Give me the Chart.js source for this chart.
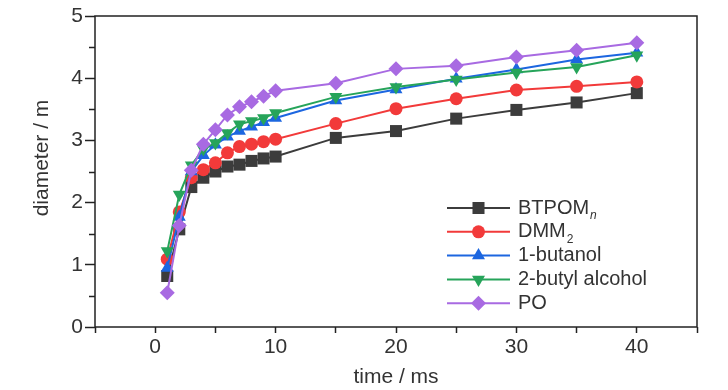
<!DOCTYPE html>
<html>
<head>
<meta charset="utf-8">
<script src="https://cdn.jsdelivr.net/npm/chart.js@4/dist/chart.umd.min.js"></script>
<style>
  html, body { margin: 0; padding: 0; background: #fff; }
  #wrap { width: 728px; height: 390px; }
</style>
</head>
<body>
<div id="wrap"><canvas id="chart" width="728" height="390"></canvas></div>
<script>
// --- data ---
const timeMs = [1, 2, 3, 4, 5, 6, 7, 8, 9, 10, 15, 20, 25, 30, 35, 40];
const btpom = [0.82, 1.57, 2.25, 2.40, 2.50, 2.58, 2.61, 2.67, 2.71, 2.74, 3.04, 3.15, 3.35, 3.49, 3.61, 3.76];
const dmm2 = [1.09, 1.85, 2.40, 2.53, 2.64, 2.80, 2.90, 2.94, 2.98, 3.02, 3.27, 3.51, 3.67, 3.81, 3.87, 3.94];
const butanol1 = [0.95, 1.77, 2.50, 2.76, 2.93, 3.06, 3.15, 3.22, 3.29, 3.36, 3.64, 3.82, 3.99, 4.14, 4.30, 4.41];
const butylAlcohol2 = [1.22, 2.13, 2.60, 2.86, 2.96, 3.12, 3.26, 3.31, 3.36, 3.44, 3.70, 3.86, 3.98, 4.09, 4.18, 4.37];
const po = [0.55, 1.63, 2.52, 2.94, 3.17, 3.41, 3.54, 3.62, 3.71, 3.80, 3.92, 4.15, 4.20, 4.34, 4.45, 4.57];

const seriesNames = ['BTPOM', 'DMM', '1-butanol', '2-butyl alcohol', 'PO'];
const seriesSubs = ['n', '2', '', '', ''];
const xTickLabels = [0, 10, 20, 30, 40];
const yTickLabels = [0, 1, 2, 3, 4, 5];

const FONT = "'Liberation Sans Narrow', 'Liberation Sans', Arial, sans-serif";
const TXT = '#333333';

const styles = [
    { color: '#3c3c3c', point: 'rect', r: 8.5, rot: 0 },
    { color: '#f23a3a', point: 'circle', r: 6.5, rot: 0 },
    { color: '#1c66e0', point: 'triangle', r: 7.5, rot: 0 },
    { color: '#26a45a', point: 'triangle', r: 7.5, rot: 180 },
    { color: '#a86ae2', point: 'rectRot', r: 7.5, rot: 0 }
];
const allSeries = [btpom, dmm2, butanol1, butylAlcohol2, po];

const datasets = allSeries.map((vals, i) => ({
    label: seriesNames[i],
    data: timeMs.map((t, k) => ({ x: t, y: vals[k] })),
    borderColor: styles[i].color,
    backgroundColor: styles[i].color,
    borderWidth: 2,
    pointStyle: styles[i].point,
    pointRadius: styles[i].r,
    pointRotation: styles[i].rot,
    pointBorderWidth: 0,
    pointHoverRadius: styles[i].r,
    tension: 0,
    order: allSeries.length - i
}));

// frame, minor ticks, y title and legend drawn by hand
const extras = {
    id: 'extras',
    afterDraw(chart) {
        const ctx = chart.ctx;
        const a = chart.chartArea;
        ctx.save();
        ctx.strokeStyle = '#222';
        ctx.lineWidth = 1.5;
        ctx.strokeRect(a.left, a.top, a.right - a.left, a.bottom - a.top);

        // short minor ticks on the y axis
        const ys = chart.scales.y;
        ctx.beginPath();
        for (let v = 0.5; v < 5; v += 1) {
            const py = Math.round(ys.getPixelForValue(v)) + 0.5;
            ctx.moveTo(a.left - 6, py);
            ctx.lineTo(a.left, py);
        }
        ctx.stroke();

        // y title
        ctx.fillStyle = TXT;
        ctx.font = '21px ' + FONT;
        ctx.textAlign = 'center';
        ctx.textBaseline = 'middle';
        ctx.translate(42, 158);
        ctx.rotate(-Math.PI / 2);
        ctx.fillText('diameter / m', 0, 0);
        ctx.restore();

        // legend
        ctx.save();
        const x0 = 447, x1 = 510, tx = 518;
        chart.data.datasets.forEach((ds, i) => {
            const y = 208 + i * 23.8;
            ctx.strokeStyle = ds.borderColor;
            ctx.lineWidth = 2;
            ctx.beginPath();
            ctx.moveTo(x0, y);
            ctx.lineTo(x1, y);
            ctx.stroke();
            ctx.fillStyle = ds.backgroundColor;
            Chart.helpers.drawPoint(ctx, {
                pointStyle: ds.pointStyle,
                rotation: ds.pointRotation,
                radius: ds.pointRadius,
                borderWidth: 0
            }, (x0 + x1) / 2, y);

            ctx.fillStyle = TXT;
            ctx.textAlign = 'left';
            ctx.textBaseline = 'middle';
            ctx.font = '20px ' + FONT;
            ctx.fillText(ds.label, tx, y);
            const sub = seriesSubs[i];
            if (sub) {
                const w = ctx.measureText(ds.label).width;
                ctx.font = (sub === 'n' ? 'italic ' : '') + '12px ' + FONT;
                ctx.fillText(sub, tx + w + 1, y + 8);
            }
        });
        ctx.restore();
    }
};

new Chart(document.getElementById('chart'), {
    type: 'line',
    data: { datasets },
    options: {
        responsive: false,
        animation: false,
        events: [],
        layout: { padding: { top: 16, right: 31, left: 0, bottom: 0 } },
        plugins: {
            legend: { display: false },
            tooltip: { enabled: false }
        },
        scales: {
            x: {
                type: 'linear',
                min: -5,
                max: 45,
                afterFit: s => { s.height = 63; },
                afterBuildTicks: s => {
                    s.ticks = [];
                    for (let v = -5; v <= 45; v += 5) s.ticks.push({ value: v });
                },
                ticks: {
                    color: TXT,
                    font: { family: FONT, size: 21 },
                    padding: 2,
                    maxRotation: 0,
                    autoSkip: false,
                    callback: v => xTickLabels.includes(v) ? String(v) : ''
                },
                grid: {
                    drawOnChartArea: false,
                    tickLength: 6,
                    tickColor: '#222',
                    tickWidth: 1.5
                },
                border: { display: false },
                title: {
                    display: true,
                    text: 'time / ms',
                    color: TXT,
                    font: { family: FONT, size: 21 },
                    padding: { top: 0, bottom: 0 }
                }
            },
            y: {
                min: 0,
                max: 5,
                afterFit: s => { s.width = 95; },
                afterBuildTicks: s => {
                    s.ticks = [];
                    for (let v = 0; v <= 5; v++) s.ticks.push({ value: v });
                },
                ticks: {
                    color: TXT,
                    font: { family: FONT, size: 21 },
                    padding: 2,
                    autoSkip: false,
                    callback: v => yTickLabels.includes(v) ? String(v) : ''
                },
                grid: {
                    drawOnChartArea: false,
                    tickLength: 10,
                    tickColor: '#222',
                    tickWidth: 1.5
                },
                border: { display: false }
            }
        }
    },
    plugins: [extras]
});
</script>
</body>
</html>
